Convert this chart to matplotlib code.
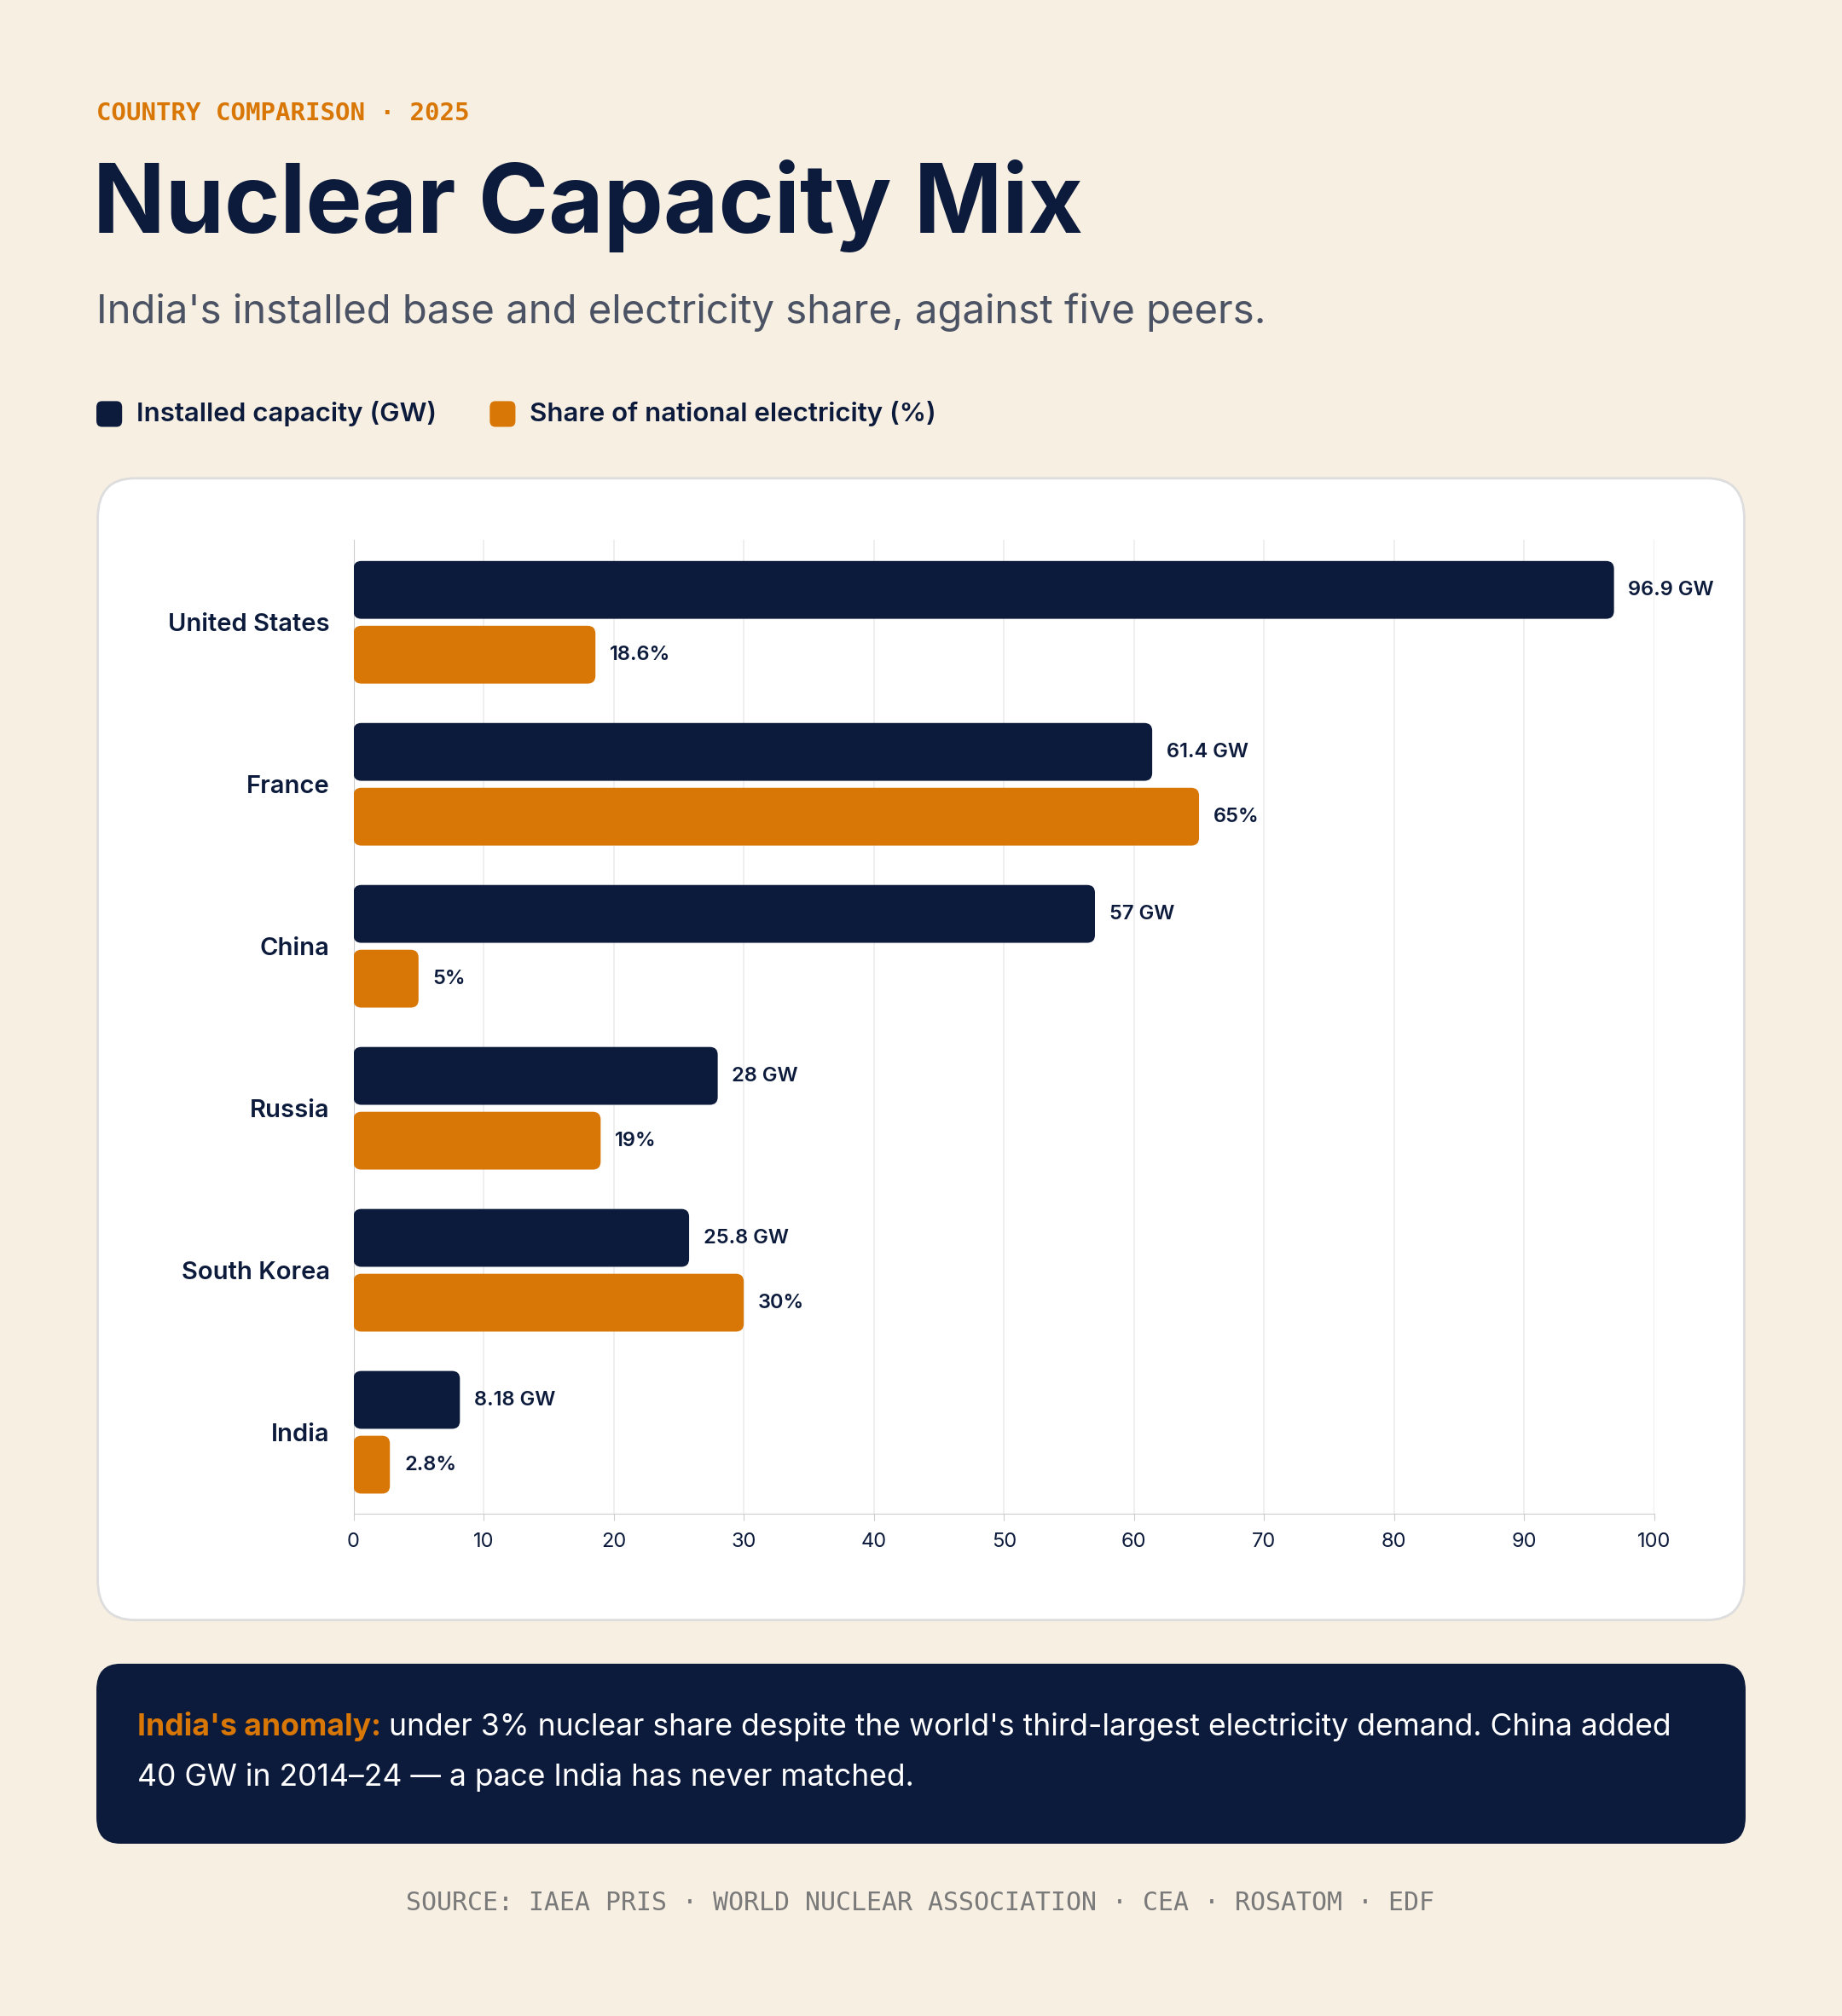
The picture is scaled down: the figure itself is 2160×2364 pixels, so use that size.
import matplotlib
matplotlib.use("Agg")
import matplotlib.pyplot as plt
from matplotlib.patches import FancyBboxPatch

countries = ["United States", "France", "China", "Russia", "South Korea", "India"]
capacity_gw = [96.9, 61.4, 57, 28, 25.8, 8.18]
share_pct = [18.6, 65, 5, 19, 30, 2.8]
cap_labels = ["96.9 GW", "61.4 GW", "57 GW", "28 GW", "25.8 GW", "8.18 GW"]
share_labels = ["18.6%", "65%", "5%", "19%", "30%", "2.8%"]
xticks = [0, 10, 20, 30, 40, 50, 60, 70, 80, 90, 100]

NAVY = "#0c1a3b"; ORANGE = "#d97706"; BG = "#f6efe2"
W, H = 1433, 1568
fig = plt.figure(figsize=(21.6, 23.64), dpi=100, facecolor=BG)
def fx(x): return x / W
def fy(y): return 1 - y / H
SANS = ["Inter", "DejaVu Sans"]

fig.text(fx(75), fy(88), "COUNTRY COMPARISON · 2025", family="DejaVu Sans Mono", weight="bold",
         color=ORANGE, fontsize=21, va="center")
fig.text(fx(72), fy(160), "Nuclear Capacity Mix", family=SANS, weight="bold", color=NAVY,
         fontsize=80, va="center")
fig.text(fx(75), fy(243), "India's installed base and electricity share, against five peers.",
         family=SANS, color="#4a5263", fontsize=34, va="center")

# legend
for xs, lab, c in [(75, "Installed capacity (GW)", NAVY), (381, "Share of national electricity (%)", ORANGE)]:
    fig.patches.append(FancyBboxPatch((fx(xs), fy(332)), fx(20), 20 / H,
                       boxstyle="round,pad=0,rounding_size=0.003", transform=fig.transFigure,
                       facecolor=c, edgecolor="none"))
    fig.text(fx(xs + 31), fy(322), lab, family=SANS, weight="semibold", color=NAVY, fontsize=22.5, va="center")

card = FancyBboxPatch((fx(76), fy(1260)), fx(1357 - 76), (1260 - 372) / H,
                      boxstyle="round,pad=0,rounding_size=0.02", transform=fig.transFigure,
                      facecolor="white", edgecolor="#dddddd", linewidth=2, zorder=-5)
fig.patches.append(card)

ax = fig.add_axes([fx(275), fy(1177), fx(1287 - 275), (1177 - 420) / H])
ax.set_zorder(5)
ax.set_facecolor("none")
ax.set_xlim(0, 100)
ax.set_ylim(5.5, -0.508)
for s in ["top", "right"]:
    ax.spines[s].set_visible(False)
ax.spines["left"].set_color("#cccccc")
ax.spines["bottom"].set_color("#cccccc")
ax.set_xticks(xticks)
ax.tick_params(axis="x", length=6, color="#cccccc", labelsize=17, labelcolor=NAVY, pad=10)
for t in ax.get_xticklabels():
    t.set_family(SANS)
ax.set_yticks(range(len(countries)))
ax.set_yticklabels(countries, family=SANS, weight="semibold", fontsize=21, color=NAVY)
ax.tick_params(axis="y", length=0, pad=20)
ax.grid(axis="x", color="#ececec", linewidth=1.2)
ax.set_axisbelow(True)

bh = 0.357; off = 0.2
asp = (1 / 126) / (1 / 10.12)
for i in range(len(countries)):
    for val, lab, c, yc in [(capacity_gw[i], cap_labels[i], NAVY, i - off),
                            (share_pct[i], share_labels[i], ORANGE, i + off)]:
        p = FancyBboxPatch((0, yc - bh / 2), val, bh, boxstyle="round,pad=0,rounding_size=0.6",
                           mutation_aspect=asp, facecolor=c, edgecolor="none", zorder=3)
        ax.add_patch(p)
        t = ax.text(val + 1.1, yc, lab, family=SANS, weight="semibold", fontsize=17,
                    color=NAVY, va="center", zorder=4, clip_on=False)
        t.set_clip_path(card)

# callout
fig.patches.append(FancyBboxPatch((fx(75), fy(1434)), fx(1358 - 75), (1434 - 1294) / H,
                   boxstyle="round,pad=0,rounding_size=0.013", transform=fig.transFigure,
                   facecolor=NAVY, edgecolor="none"))
t1 = fig.text(fx(107), fy(1343), "India's anomaly:", family=SANS, weight="bold", color=ORANGE,
              fontsize=25.6, va="center")
fig.canvas.draw()
bb = t1.get_window_extent().transformed(fig.transFigure.inverted())
fig.text(bb.x1 + 0.004, fy(1343), "under 3% nuclear share despite the world's third-largest electricity demand. China added",
         family=SANS, color="white", fontsize=25.6, va="center")
fig.text(fx(107), fy(1382), "40 GW in 2014–24 — a pace India has never matched.", family=SANS,
         color="white", fontsize=25.6, va="center")

fig.text(fx(716), fy(1480), "SOURCE: IAEA PRIS · WORLD NUCLEAR ASSOCIATION · CEA · ROSATOM · EDF",
         family="DejaVu Sans Mono", color="#7a7a7a", fontsize=21.5, ha="center", va="center")

fig.savefig("out.png", dpi=100, facecolor=BG)
